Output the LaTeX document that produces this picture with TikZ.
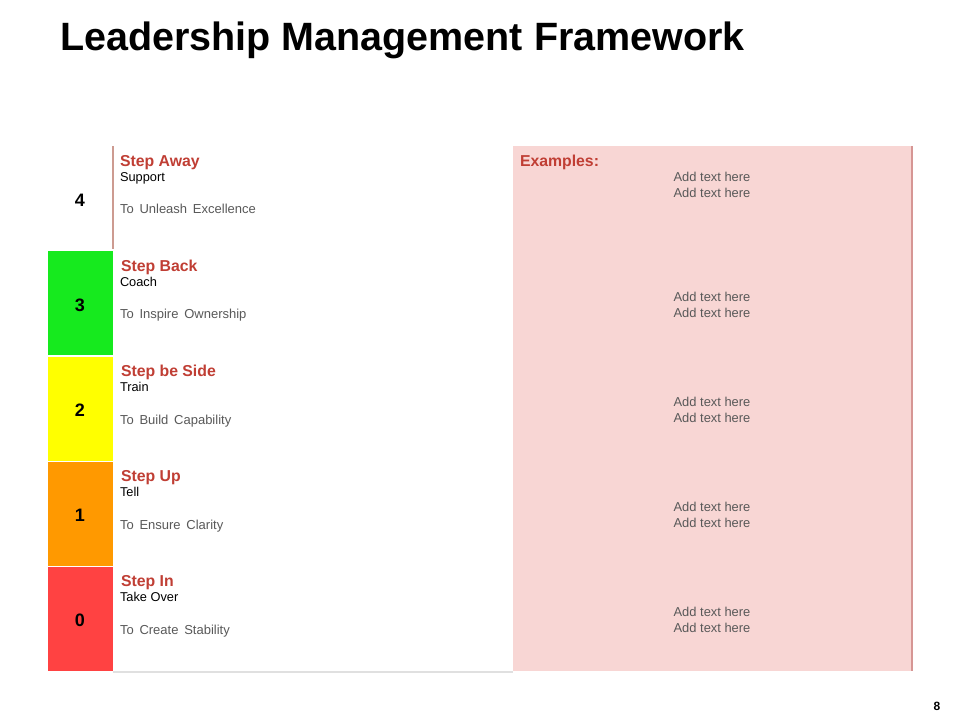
\documentclass[tikz,border=0pt]{standalone}
\usepackage{fontspec}
\setmainfont{Liberation Sans}
\newfontfamily\widespace[WordSpace=1.6]{Liberation Sans}
\definecolor{stepred}{RGB}{192,62,52}
\definecolor{txtgray}{RGB}{89,89,89}
\definecolor{cgreen}{RGB}{22,234,30}
\definecolor{cyellow}{RGB}{255,255,0}
\definecolor{corange}{RGB}{255,153,0}
\definecolor{cred}{RGB}{255,66,66}
\definecolor{pinkbg}{RGB}{248,214,212}
\definecolor{pinkedge}{RGB}{214,150,148}
\definecolor{roseline}{RGB}{205,155,145}
\begin{document}
\begin{tikzpicture}[x=1pt,y=-1pt,
  every node/.style={inner sep=0pt,outer sep=0pt},
  titletxt/.style={anchor=base west,font=\fontsize{39.5}{42}\selectfont\bfseries},
  steptitle/.style={anchor=base west,font=\fontsize{15.8}{17}\selectfont\bfseries,text=stepred},
  roletxt/.style={anchor=base west,font=\fontsize{12.8}{14}\selectfont,text=black},
  goaltxt/.style={anchor=base west,font=\widespace\fontsize{13}{14}\selectfont,text=txtgray},
  addtxt/.style={anchor=base,font=\fontsize{12.9}{14}\selectfont,text=txtgray},
  numtxt/.style={anchor=center,font=\fontsize{18}{20}\selectfont\bfseries,text=black},
  pagetxt/.style={anchor=base,font=\fontsize{12}{14}\selectfont\bfseries}]
\useasboundingbox[fill=white] (0,0) rectangle (960,720);
% title
\node[titletxt] (title) at (60,50) {Leadership Management Framework};
% pink examples box
\fill[pinkbg] (513,146) rectangle (912,671);
\draw[pinkedge,line width=2pt] (912,146) -- (912,671);
% colored cells
\fill[cgreen]  (48,251.2) rectangle (113,355.4);
\fill[cyellow] (48,356.8) rectangle (113,460.6);
\fill[corange] (48,462.0) rectangle (113,565.8);
\fill[cred]    (48,567.2) rectangle (113,671);
\draw[roseline,line width=1.2pt] (113,146) -- (113,249);
\draw[black!12,line width=1.5pt] (113,672) -- (513,672);
% numbers
\node[numtxt] (n4) at (80,200) {4};
\node[numtxt] (n3) at (80,305) {3};
\node[numtxt] (n2) at (80,410) {2};
\node[numtxt] (n1) at (80,515) {1};
\node[numtxt] (n0) at (80,620) {0};
% row 4
\node[steptitle] (s4) at (120,166) {Step Away};
\node[roletxt] (r4) at (120,181) {Support};
\node[goaltxt] (g4) at (120,213) {To Unleash Excellence};
% row 3
\node[steptitle] (s3) at (121,271) {Step Back};
\node[roletxt] (r3) at (120,286) {Coach};
\node[goaltxt] (g3) at (120,318) {To Inspire Ownership};
% row 2
\node[steptitle] (s2) at (121,376) {Step be Side};
\node[roletxt] (r2) at (120,391) {Train};
\node[goaltxt] (g2) at (120,424) {To Build Capability};
% row 1
\node[steptitle] (s1) at (121,481) {Step Up};
\node[roletxt] (r1) at (120,496) {Tell};
\node[goaltxt] (g1) at (120,529) {To Ensure Clarity};
% row 0
\node[steptitle] (s0) at (121,586) {Step In};
\node[roletxt] (r0) at (120,601) {Take Over};
\node[goaltxt] (g0) at (120,634) {To Create Stability};
% examples
\node[steptitle] (ex) at (520,166) {Examples:};
\node[addtxt] (a4a) at (712,181) {Add text here};
\node[addtxt] (a4b) at (712,197) {Add text here};
\node[addtxt] (a3a) at (712,301) {Add text here};
\node[addtxt] (a3b) at (712,317) {Add text here};
\node[addtxt] (a2a) at (712,406) {Add text here};
\node[addtxt] (a2b) at (712,422) {Add text here};
\node[addtxt] (a1a) at (712,511) {Add text here};
\node[addtxt] (a1b) at (712,527) {Add text here};
\node[addtxt] (a0a) at (712,616) {Add text here};
\node[addtxt] (a0b) at (712,632) {Add text here};
% page number
\node[pagetxt] (pg) at (937,710) {8};
\end{tikzpicture}
\end{document}
